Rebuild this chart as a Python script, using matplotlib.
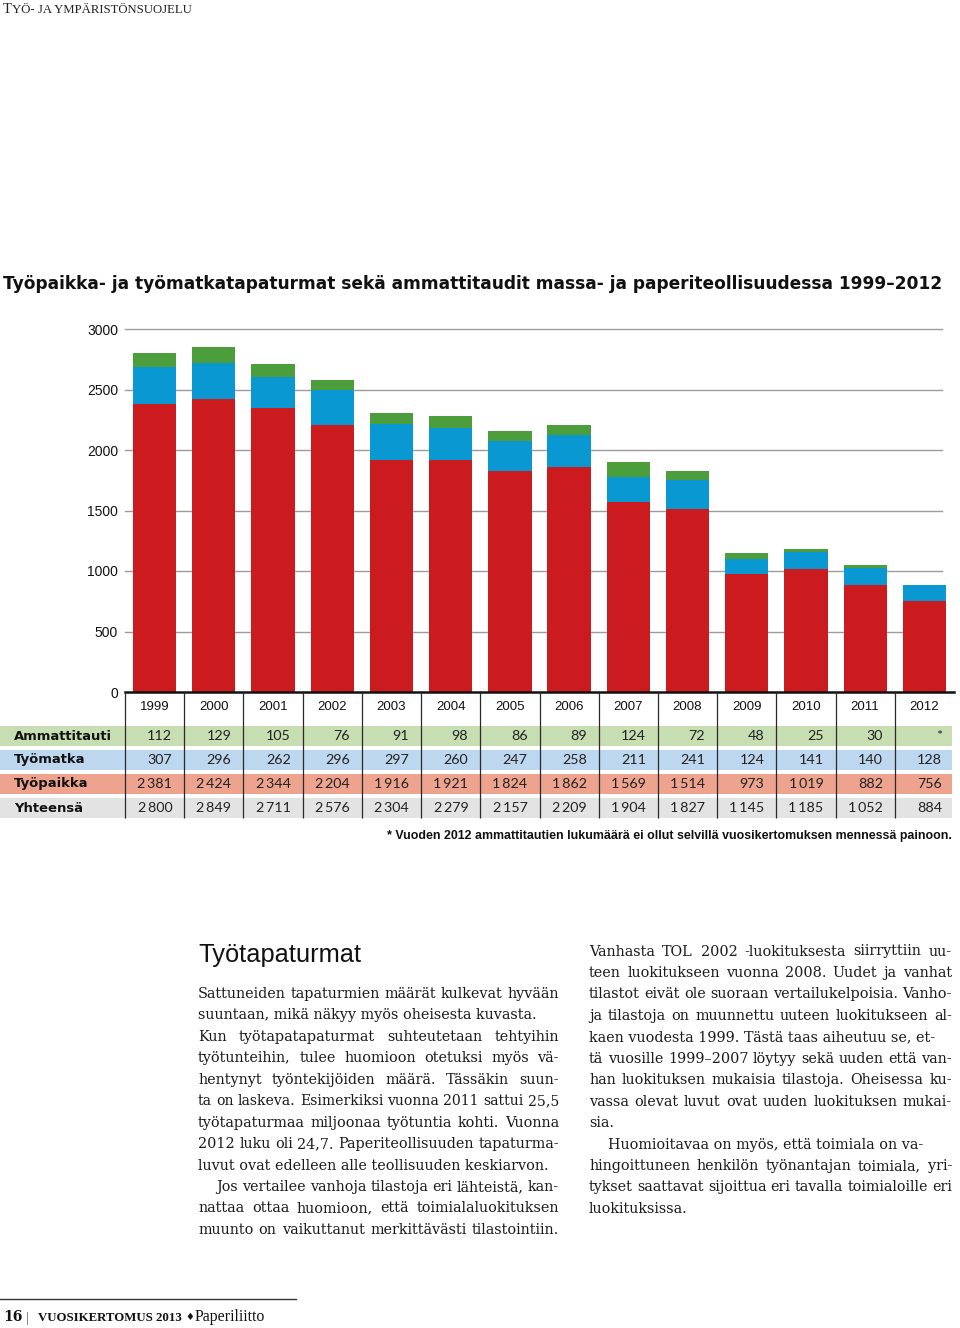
import matplotlib
matplotlib.use("Agg")
import matplotlib.pyplot as plt
from matplotlib.font_manager import FontProperties
from matplotlib.patches import Rectangle
from matplotlib.lines import Line2D
import numpy as np

# ---------------- data ----------------
years = [str(y) for y in range(1999, 2013)]
ammattitauti = [112, 129, 105, 76, 91, 98, 86, 89, 124, 72, 48, 25, 30, None]
tyomatka = [307, 296, 262, 296, 297, 260, 247, 258, 211, 241, 124, 141, 140, 128]
tyopaikka = [2381, 2424, 2344, 2204, 1916, 1921, 1824, 1862, 1569, 1514, 973, 1019, 882, 756]
yhteensa = [2800, 2849, 2711, 2576, 2304, 2279, 2157, 2209, 1904, 1827, 1145, 1185, 1052, 884]
row_labels = ["Ammattitauti", "Työmatka", "Työpaikka", "Yhteensä"]
yticks = [0, 500, 1000, 1500, 2000, 2500, 3000]

header_text = ("T", "YÖ- JA YMPÄRISTÖNSUOJELU")
title = "Työpaikka- ja työmatkatapaturmat sekä ammattitaudit massa- ja paperiteollisuudessa 1999–2012"
footnote = "* Vuoden 2012 ammattitautien lukumäärä ei ollut selvillä vuosikertomuksen mennessä painoon."
heading = "Työtapaturmat"
left_lines = [
    ("Sattuneiden tapaturmien määrät kulkevat hyvään", True, False),
    ("suuntaan, mikä näkyy myös oheisesta kuvasta.", False, False),
    ("Kun työtapatapaturmat suhteutetaan tehtyihin", True, False),
    ("työtunteihin, tulee huomioon otetuksi myös vä-", True, False),
    ("hentynyt työntekijöiden määrä. Tässäkin suun-", True, False),
    ("ta on laskeva. Esimerkiksi vuonna 2011 sattui 25,5", True, False),
    ("työtapaturmaa miljoonaa työtuntia kohti. Vuonna", True, False),
    ("2012 luku oli 24,7.  Paperiteollisuuden tapaturma-", True, False),
    ("luvut ovat edelleen alle teollisuuden keskiarvon.", False, False),
    ("Jos vertailee vanhoja tilastoja eri lähteistä, kan-", True, True),
    ("nattaa ottaa huomioon, että toimialaluokituksen", True, False),
    ("muunto on vaikuttanut merkittävästi tilastointiin.", True, False),
]
right_lines = [
    ("Vanhasta TOL 2002 -luokituksesta siirryttiin uu-", True, False),
    ("teen luokitukseen vuonna 2008. Uudet ja vanhat", True, False),
    ("tilastot eivät ole suoraan vertailukelpoisia. Vanho-", True, False),
    ("ja tilastoja on muunnettu uuteen luokitukseen al-", True, False),
    ("kaen vuodesta 1999. Tästä taas aiheutuu se, et-", False, False),
    ("tä vuosille 1999–2007 löytyy sekä uuden että van-", True, False),
    ("han luokituksen mukaisia tilastoja. Oheisessa ku-", True, False),
    ("vassa olevat luvut ovat uuden luokituksen mukai-", True, False),
    ("sia.", False, False),
    ("Huomioitavaa on myös, että toimiala on va-", False, True),
    ("hingoittuneen henkilön työnantajan toimiala, yri-", True, False),
    ("tykset saattavat sijoittua eri tavalla toimialoille eri", True, False),
    ("luokituksissa.", False, False),
]
footer_parts = ["16", "|", "VUOSIKERTOMUS 2013", "♦", "Paperiliitto"]

# ---------------- style ----------------
RED = "#CC1B1F"
BLUE = "#0998D2"
GREEN = "#4B9E3B"
ROW_BG = ["#C6DEB1", "#BCD7EE", "#EDA38E", "#E3E3E3"]
GRID = "#9C9C9C"

W, H = 960, 1328
fig = plt.figure(figsize=(W / 100, H / 100), dpi=100)
renderer = fig.canvas.get_renderer()


def fx(px):
    return px / W


def fy(py):
    return 1 - py / H


def text_width(s, fp):
    w, h, d = renderer.get_text_width_height_descent(s, fp, ismath=False)
    return w


def fit(s, fp, target):
    fp = fp.copy()
    for _ in range(3):
        w = text_width(s, fp)
        fp.set_size(fp.get_size_in_points() * target / w)
    return fp


SANS = ["DejaVu Sans"]
LSANS = ["Liberation Sans", "DejaVu Sans"]
SERIF_T = ["Liberation Serif", "DejaVu Serif"]
SERIF_D = ["DejaVu Serif"]

fp_tick = FontProperties(family=LSANS, size=10)
fp_year = FontProperties(family=LSANS, size=9.5)
fp_num = FontProperties(family=["Lato", "DejaVu Sans"], size=10.3)
fp_label = fit("Ammattitauti", FontProperties(family=SANS, weight="bold", size=10), 98)
fp_title = fit(title, FontProperties(family=SANS, weight="bold", size=12), 947)
fp_note = fit(footnote, FontProperties(family=LSANS, weight="bold", size=9), 557)
fp_head = fit(heading, FontProperties(family=LSANS, size=15), 162)
fp_body = FontProperties(family=SERIF_D, size=10.4)
fp_hdr_big = FontProperties(family=SERIF_T, size=10.5)
fp_hdr_sc = fit(header_text[1], FontProperties(family=SERIF_T, size=8), 180)
fp_serif_b = FontProperties(family=SERIF_D, weight="bold", size=10)
fp_sc = fit(footer_parts[2], FontProperties(family=SERIF_T, weight="bold", size=8.5), 144)
fp_foot = fit(footer_parts[4], FontProperties(family=SERIF_T, size=11), 70)
fp_bar = FontProperties(family=SERIF_T, size=11)
fp_dia = FontProperties(family=SANS, size=7)

# ---------------- chart ----------------
x0, x1 = 125, 954
ncol = len(years)
colw = (x1 - x0) / ncol
ax = fig.add_axes([fx(x0), fy(692), fx(x1 - x0), (692 - 329) / H])
ax.set_xlim(-0.5, ncol - 0.5)
ax.set_ylim(0, 3000)
idx = np.arange(ncol)
amm = np.array([v if v is not None else 0 for v in ammattitauti])
tp = np.array(tyopaikka)
tm = np.array(tyomatka)
bw = 0.73
ax.bar(idx, tp, width=bw, color=RED, zorder=3, linewidth=0)
ax.bar(idx, tm, width=bw, bottom=tp, color=BLUE, zorder=3, linewidth=0)
ax.bar(idx, amm, width=bw, bottom=tp + tm, color=GREEN, zorder=3, linewidth=0)
grid_end = (942 - x0) / (x1 - x0)
for t in yticks[1:]:
    ax.axhline(t, xmin=0, xmax=grid_end, color=GRID, lw=1.0, zorder=1, clip_on=False)
ax.axhline(0, color="#111111", lw=1.8, zorder=4, clip_on=False)
for s in ax.spines.values():
    s.set_visible(False)
ax.set_xticks([])
ax.set_yticks(yticks)
ax.set_yticklabels([str(t) for t in yticks])
for lab in ax.get_yticklabels():
    lab.set_fontproperties(fp_tick)
    lab.set_color("#111111")
ax.tick_params(axis="y", length=0, pad=5)

# ---------------- table ----------------
tax = fig.add_axes([0, fy(820), fx(x1), (820 - 692) / H])
xl0 = -0.5 - x0 / colw
tax.set_xlim(xl0, ncol - 0.5)
tax.set_ylim(820, 692)
tax.axis("off")
row_y = [736, 760, 784, 808]
row_h = 20
x_right_bg = -0.5 + (952 - x0) / colw
for yc, c in zip(row_y, ROW_BG):
    tax.add_patch(Rectangle((xl0, yc - row_h / 2), x_right_bg - xl0, row_h,
                            facecolor=c, edgecolor="none", zorder=1))
for k in range(ncol):
    xk = k - 0.5
    tax.plot([xk, xk], [692, 818], color="#2a2a2a", lw=0.9, zorder=3, solid_capstyle="butt")
for k, yr in enumerate(years):
    tax.text(k, 707, yr, fontproperties=fp_year, ha="center", va="center", color="#111111", zorder=4)


def fmt(v):
    if v is None:
        return "*"
    return f"{v:,}".replace(",", "\u2009")


rows = [ammattitauti, tyomatka, tyopaikka, yhteensa]
for r, (lab, vals, yc) in enumerate(zip(row_labels, rows, row_y)):
    tax.text(xl0 + 14 / colw, yc, lab, fontproperties=fp_label, ha="left", va="center",
             color="#111111", zorder=4)
    for k, v in enumerate(vals):
        tax.text(k + 0.5 - 12 / colw, yc, fmt(v), fontproperties=fp_num, ha="right",
                 va="center", color="#222222", zorder=4)

# ---------------- texts ----------------
fig.text(fx(3), fy(13), header_text[0], fontproperties=fp_hdr_big, ha="left", va="baseline", color="#222222")
fig.text(fx(12.5), fy(13), header_text[1], fontproperties=fp_hdr_sc, ha="left", va="baseline", color="#222222")

fig.text(fx(3), fy(289), title, fontproperties=fp_title, ha="left", va="baseline", color="#111111")
fig.text(fx(952), fy(839), footnote, fontproperties=fp_note, ha="right", va="baseline", color="#111111")

fig.text(fx(198), fy(962), heading, fontproperties=fp_head, ha="left", va="baseline", color="#111111")


def draw_line(line, xl, xr, yb, justify, fp):
    words = line.split()
    fp = fp.copy()
    widths = [text_width(w, fp) for w in words]
    space = text_width("a a", fp) - 2 * text_width("a", fp)
    natural = sum(widths) + space * (len(words) - 1)
    if natural > xr - xl:
        fp.set_size(fp.get_size_in_points() * (xr - xl) / natural * 0.995)
        widths = [text_width(w, fp) for w in words]
    if not justify or len(words) < 2:
        fig.text(fx(xl), fy(yb), line, fontproperties=fp, ha="left", va="baseline", color="#1a1a1a")
        return
    gap = (xr - xl - sum(widths)) / (len(words) - 1)
    x = xl
    for w, wd in zip(words, widths):
        fig.text(fx(x), fy(yb), w, fontproperties=fp, ha="left", va="baseline", color="#1a1a1a")
        x += wd + gap


step = 21.45
for i, (line, just, indent) in enumerate(left_lines):
    xl = 198 + (18 if indent else 0)
    draw_line(line, xl, 559, 998 + i * step, just, fp_body)
for i, (line, just, indent) in enumerate(right_lines):
    xl = 589 + (19 if indent else 0)
    draw_line(line, xl, 952, 955.5 + i * step, just, fp_body)

# ---------------- footer ----------------
fig.add_artist(Line2D([0, fx(296)], [fy(1299), fy(1299)], color="#333333", lw=1.0))
fig.text(fx(3), fy(1321), footer_parts[0], fontproperties=fp_serif_b, ha="left", va="baseline", color="#111111")
fig.text(fx(26), fy(1322), footer_parts[1], fontproperties=fp_bar, ha="left", va="baseline", color="#666666")
fig.text(fx(38), fy(1321), footer_parts[2], fontproperties=fp_sc, ha="left", va="baseline", color="#111111")
fig.text(fx(185), fy(1320), footer_parts[3], fontproperties=fp_dia, ha="left", va="baseline", color="#111111")
fig.text(fx(195), fy(1321), footer_parts[4], fontproperties=fp_foot, ha="left", va="baseline", color="#111111")

fig.savefig("out.png", dpi=100)
